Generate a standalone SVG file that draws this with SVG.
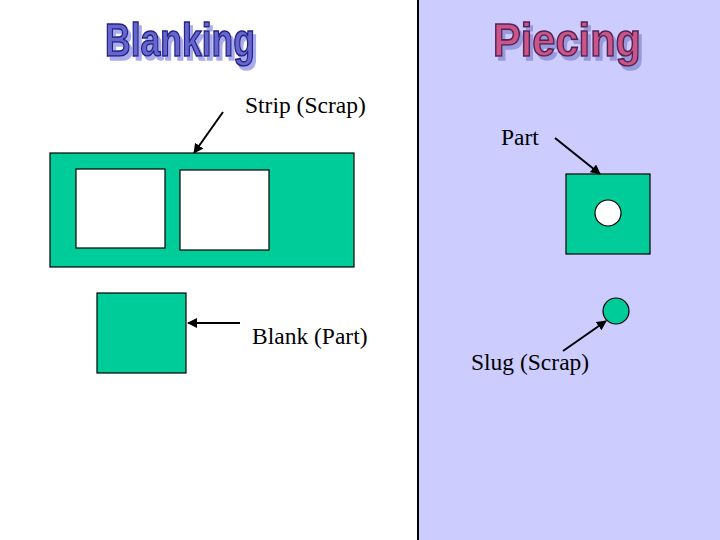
<svg xmlns="http://www.w3.org/2000/svg" width="720" height="540" viewBox="0 0 720 540">
<defs>
<style>
.lbl{font-family:"Liberation Serif","Times New Roman",serif;font-size:23.5px;fill:#000}
.title{font-family:"Liberation Sans",Arial,sans-serif;font-weight:bold;font-size:47px;stroke-width:1.6}
.green{fill:#00CC99;stroke:#000;stroke-width:1.2}
.hole{fill:#fff;stroke:#000;stroke-width:1.2}
.conn{stroke:#000;stroke-width:2;fill:none;marker-end:url(#ah)}
</style>
<filter id="shB" x="-10%" y="-20%" width="130%" height="150%">
<feOffset in="SourceAlpha" dx="3" dy="4" result="o"/>
<feFlood flood-color="#AAAAEE"/>
<feComposite in2="o" operator="in" result="s"/>
<feMerge><feMergeNode in="s"/><feMergeNode in="SourceGraphic"/></feMerge>
</filter>
<filter id="shP" x="-10%" y="-20%" width="130%" height="150%">
<feOffset in="SourceAlpha" dx="3" dy="4" result="o"/>
<feFlood flood-color="#9999DD"/>
<feComposite in2="o" operator="in" result="s"/>
<feMerge><feMergeNode in="s"/><feMergeNode in="SourceGraphic"/></feMerge>
</filter>
<marker id="ah" viewBox="0 0 10 10" refX="9" refY="5" markerWidth="5" markerHeight="5" orient="auto" markerUnits="strokeWidth">
<path d="M0,0 L10,5 L0,10 z" fill="#000"/>
</marker>
</defs>
<rect x="0" y="0" width="720" height="540" fill="#fff"/>
<rect id="panel" x="418" y="0" width="302" height="540" fill="#CCCCFF"/>
<line x1="418" y1="0" x2="418" y2="540" stroke="#000" stroke-width="2"/>

<g id="title-blanking">
<text class="title" x="105" y="56" textLength="150" lengthAdjust="spacingAndGlyphs" fill="#6666CC" stroke="#222288" filter="url(#shB)">Blanking</text>
</g>
<g id="title-piecing">
<text class="title" x="493" y="56" textLength="148" lengthAdjust="spacingAndGlyphs" fill="#CC5588" stroke="#552255" filter="url(#shP)">Piecing</text>
</g>

<g id="strip">
<rect class="green" x="50" y="153" width="304" height="114"/>
<rect class="hole" x="76" y="169" width="89" height="79"/>
<rect class="hole" x="180" y="170" width="89" height="80"/>
</g>
<g id="blank">
<rect class="green" x="97" y="293" width="89" height="80"/>
</g>
<g id="part">
<rect class="green" x="566" y="174" width="84" height="80"/>
<circle class="hole" cx="608" cy="213" r="13"/>
</g>
<g id="slug">
<circle class="green" cx="616" cy="311" r="13"/>
</g>

<g id="label-strip"><text class="lbl" x="245" y="113">Strip (Scrap)</text></g>
<g id="label-part"><text class="lbl" x="501" y="145">Part</text></g>
<g id="label-blank"><text class="lbl" x="252" y="344">Blank (Part)</text></g>
<g id="label-slug"><text class="lbl" x="471" y="370">Slug (Scrap)</text></g>

<g id="connectors">
<line class="conn" x1="223" y1="112" x2="194" y2="153"/>
<line class="conn" x1="240" y1="323" x2="188" y2="323"/>
<line class="conn" x1="555" y1="138" x2="600" y2="174"/>
<line class="conn" x1="563" y1="351" x2="606" y2="321"/>
</g>
</svg>
